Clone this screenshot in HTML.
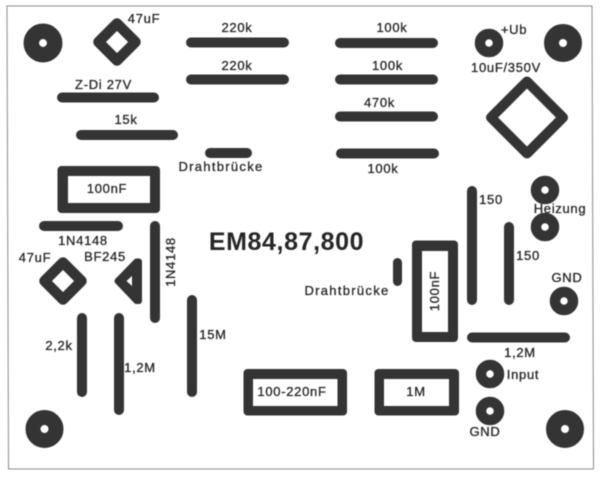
<!DOCTYPE html>
<html><head><meta charset="utf-8"><style>
html,body{margin:0;padding:0;background:#fff}
svg{display:block;filter:blur(.5px)}
text{font-family:"Liberation Sans",sans-serif;font-size:13px;fill:#262626;text-anchor:middle;letter-spacing:.7px;stroke:#262626;stroke-width:.3px}
.p{stroke:#343434;stroke-width:10;stroke-linecap:round;fill:none}
.b{fill:#fff;stroke:#343434;stroke-width:10;stroke-linejoin:round}
.c{fill:#fff;stroke:#343434}
.o{fill:#343434}
.i{fill:#fff}
.d{letter-spacing:1.3px}
</style></head><body>
<svg width="600" height="478" viewBox="0 0 600 478" xmlns="http://www.w3.org/2000/svg">
<rect width="600" height="478" fill="#fff"/>
<path d="M7 6H592L593.500 469H8.500Z" fill="none" stroke="#8a8a8a" stroke-width="1"/>

<!-- mounting holes -->
<circle class="c" cx="43" cy="43" r="11.700" stroke-width="15.500"/>
<circle class="c" cx="44.500" cy="429" r="11.500" stroke-width="15"/>
<circle class="c" cx="563" cy="43" r="11.500" stroke-width="15"/>
<circle class="c" cx="565" cy="429" r="11.500" stroke-width="15"/>

<!-- small pads -->
<circle class="c" cx="489" cy="43" r="9" stroke-width="10.500"/>
<circle class="c" cx="545" cy="190" r="9" stroke-width="10.500"/>
<circle class="c" cx="545" cy="227" r="9" stroke-width="10.500"/>
<circle class="c" cx="564" cy="301" r="9" stroke-width="10.500"/>
<circle class="c" cx="490" cy="374" r="9" stroke-width="10.500"/>
<circle class="c" cx="490" cy="411" r="9" stroke-width="10.500"/>

<!-- diamonds -->
<path class="b" style="stroke-width:10.500" d="M117 23.500L135.500 42L117 60.500L98.500 42Z"/>
<path class="b" style="stroke-width:10.500" d="M63 262.500L81.500 281L63 299.500L44.500 281Z"/>
<path class="b" style="stroke-width:10" d="M527 81.500L563 117.500L527 153.500L491 117.500Z"/>
<path style="fill:#343434;stroke:#343434;stroke-width:6;stroke-linejoin:round" d="M117.500 281L136.500 261.500H139V301H136.500Z"/>
<path d="M126.500 281L132 276V286Z" fill="#fff"/>

<!-- horizontal pills -->
<path class="p" d="M191 42.500H284M191 79.500H284M62 97.500H154M81 135H173M210 153H247M340 43H433M340 79.500H433M340 116.500H433M341 153.500H434M44 226H118M472 337.500H565"/>
<!-- vertical pills -->
<path class="p" d="M155 226V318M82 318V392M119 318V410M192 300V392M472 191V300M509 227V300"/>
<path class="p" style="stroke-width:9" d="M397.500 262.500V281.500"/>

<!-- boxes -->
<rect x="57.500" y="166" width="102.500" height="47" rx="4" class="o"/><rect x="68" y="176" width="82" height="27" class="i"/>
<rect x="243.500" y="369" width="103.500" height="46.500" rx="4" class="o"/><rect x="253" y="379" width="84.500" height="27" class="i"/>
<rect x="374.500" y="369" width="84.500" height="46.500" rx="4" class="o"/><rect x="384" y="379" width="65" height="27" class="i"/>
<rect x="412" y="240.500" width="46" height="101.500" rx="4" class="o"/><rect x="422" y="251" width="26" height="81" class="i"/>

<!-- labels -->
<text x="144" y="23">47uF</text>
<text x="237" y="32">220k</text>
<text x="237" y="70">220k</text>
<text x="103.500" y="89">Z-Di 27V</text>
<text x="126" y="124">15k</text>
<text x="221" y="171" class="d">Drahtbrücke</text>
<text x="107" y="193">100nF</text>
<text x="83" y="245">1N4148</text>
<text x="392" y="32">100k</text>
<text x="387.500" y="70">100k</text>
<text x="379.500" y="107">470k</text>
<text x="383" y="173">100k</text>
<text x="514" y="34">+Ub</text>
<text x="506" y="72">10uF/350V</text>
<text x="491" y="204">150</text>
<text x="560" y="213">Heizung</text>
<text x="528" y="260">150</text>
<text x="567" y="282">GND</text>
<text x="35" y="262">47uF</text>
<text x="105" y="261">BF245</text>
<text x="59" y="350">2,2k</text>
<text x="140" y="372">1,2M</text>
<text x="213" y="339">15M</text>
<text x="347" y="295" class="d">Drahtbrücke</text>
<text x="520" y="357">1,2M</text>
<text x="523" y="379">Input</text>
<text x="485" y="436">GND</text>
<text x="292" y="396">100-220nF</text>
<text x="416" y="396">1M</text>
<text transform="translate(175,262) rotate(-90)">1N4148</text>
<text transform="translate(439,291) rotate(-90)">100nF</text>
<text x="286.500" y="250" style="font-size:25px;font-weight:bold;letter-spacing:.6px;stroke:none">EM84,87,800</text>
</svg>
</body></html>
